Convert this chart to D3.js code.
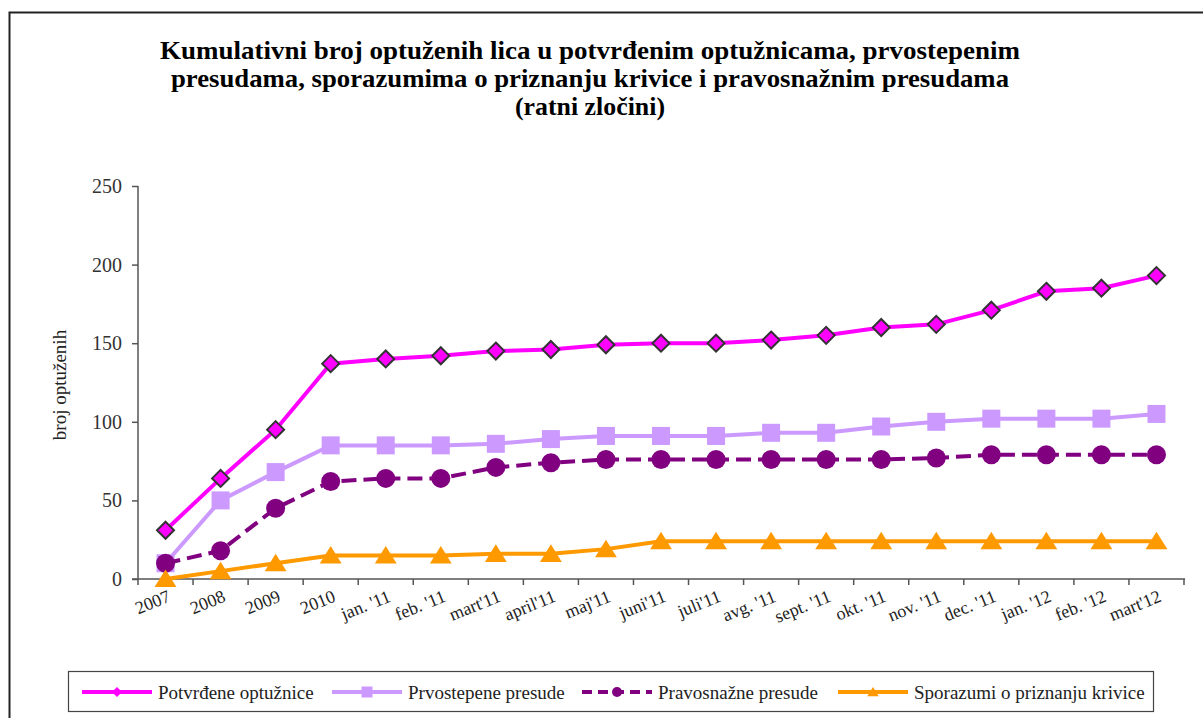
<!DOCTYPE html>
<html>
<head>
<meta charset="utf-8">
<script src="https://cdn.jsdelivr.net/npm/d3@7"></script>
<style>
    body { margin: 0; background: #ffffff; }
    svg { display: block; }
</style>
</head>
<body>
<div id="chart"></div>
<script>
// Podaci
var categories = ['2007', '2008', '2009', '2010', "jan. '11", "feb. '11", "mart'11", "april'11", "maj'11", "juni'11",
    "juli'11", "avg. '11", "sept. '11", "okt. '11", "nov. '11", "dec. '11", "jan. '12", "feb. '12", "mart'12"];

var potvrdjene = [31, 64, 95, 137, 140, 142, 145, 146, 149, 150, 150, 152, 155, 160, 162, 171, 183, 185, 193];
var prvostepene = [10, 50, 68, 85, 85, 85, 86, 89, 91, 91, 91, 93, 93, 97, 100, 102, 102, 102, 105];
var pravosnazne = [10, 18, 45, 62, 64, 64, 71, 74, 76, 76, 76, 76, 76, 76, 77, 79, 79, 79, 79];
var sporazumi = [0, 5, 10, 15, 15, 15, 16, 16, 19, 24, 24, 24, 24, 24, 24, 24, 24, 24, 24];

var yTicks = [0, 50, 100, 150, 200, 250];

var titleLines = [
    'Kumulativni broj optuženih lica u potvrđenim optužnicama, prvostepenim',
    'presudama, sporazumima o priznanju krivice i pravosnažnim presudama',
    '(ratni zločini)'
];

var series = [
    { name: 'Potvrđene optužnice', values: potvrdjene, color: '#FF00FF', marker: 'diamond', dash: null },
    { name: 'Prvostepene presude', values: prvostepene, color: '#CC99FF', marker: 'square', dash: null },
    { name: 'Pravosnažne presude', values: pravosnazne, color: '#800080', marker: 'circle', dash: '15,7' },
    { name: 'Sporazumi o priznanju krivice', values: sporazumi, color: '#FF9900', marker: 'triangle', dash: null }
];

var width = 1203, height = 718;
var plot = { left: 138, right: 1184, top: 186, bottom: 579 };

var svg = d3.select('#chart').append('svg')
    .attr('width', width)
    .attr('height', height);

// okvir
svg.append('path')
    .attr('d', 'M9.5,718 L9.5,12.5 L1203,12.5')
    .attr('fill', 'none')
    .attr('stroke', '#222')
    .attr('stroke-width', 2);

// naslov
var titleWidths = [860, 838, 150];
svg.append('g').selectAll('text')
    .data(titleLines)
    .join('text')
    .attr('x', 590)
    .attr('y', function (d, i) { return 59 + i * 28; })
    .attr('text-anchor', 'middle')
    .attr('textLength', function (d, i) { return titleWidths[i]; })
    .attr('lengthAdjust', 'spacingAndGlyphs')
    .style('font-family', '"Liberation Serif", "Times New Roman", serif')
    .style('font-weight', 'bold')
    .style('font-size', '25px')
    .text(function (d) { return d; });

var x = d3.scaleBand()
    .domain(categories)
    .range([plot.left, plot.right]);

var y = d3.scaleLinear()
    .domain([0, 250])
    .range([plot.bottom, plot.top]);

var axisColor = '#555';

// y osa
var yAxis = svg.append('g')
    .attr('transform', 'translate(' + plot.left + ',0)')
    .call(d3.axisLeft(y).tickValues(yTicks).tickSize(6).tickPadding(10));
yAxis.selectAll('path, line').attr('stroke', axisColor).attr('stroke-width', 1.5);
yAxis.select('.domain').attr('d', 'M0,' + plot.top + 'V' + plot.bottom);
yAxis.selectAll('text')
    .style('font-family', '"Liberation Serif", "Times New Roman", serif')
    .style('font-size', '20px')
    .attr('fill', '#333');

svg.append('text')
    .attr('transform', 'translate(66,' + 385 + ') rotate(-90)')
    .attr('text-anchor', 'middle')
    .style('font-family', '"Liberation Serif", "Times New Roman", serif')
    .style('font-size', '19px')
    .attr('fill', '#222')
    .text('broj optuženih');

// x osa
var xAxis = svg.append('g')
    .attr('transform', 'translate(0,' + plot.bottom + ')');
xAxis.append('line')
    .attr('x1', plot.left - 6).attr('x2', plot.right + 1)
    .attr('stroke', axisColor).attr('stroke-width', 1.5);
xAxis.selectAll('.tick')
    .data(categories.concat(['end']))
    .join('line')
    .attr('class', 'tick')
    .attr('x1', function (d, i) { return plot.left + i * x.step(); })
    .attr('x2', function (d, i) { return plot.left + i * x.step(); })
    .attr('y1', 0).attr('y2', 6)
    .attr('stroke', axisColor).attr('stroke-width', 1.5);
xAxis.selectAll('.lbl')
    .data(categories)
    .join('text')
    .attr('class', 'lbl')
    .attr('transform', function (d) {
        return 'translate(' + (x(d) + x.bandwidth() / 2 + 6) + ',22) rotate(-22)';
    })
    .attr('text-anchor', 'end')
    .style('font-family', '"Liberation Serif", "Times New Roman", serif')
    .style('font-size', '18px')
    .attr('fill', '#222')
    .text(function (d) { return d; });

// linije i markeri
var cx = function (d, i) { return x(categories[i]) + x.bandwidth() / 2; };

var line = d3.line()
    .x(cx)
    .y(function (d) { return y(d); });

function markerPath(type, s) {
    if (type === 'diamond') return 'M0,' + (-s) + 'L' + s + ',0L0,' + s + 'L' + (-s) + ',0Z';
    if (type === 'square') return 'M' + (-s) + ',' + (-s) + 'H' + s + 'V' + s + 'H' + (-s) + 'Z';
    if (type === 'triangle') return 'M0,' + (-s) + 'L' + (s * 1.15) + ',' + (s * 0.85) + 'L' + (-s * 1.15) + ',' + (s * 0.85) + 'Z';
    return d3.arc()({ innerRadius: 0, outerRadius: s, startAngle: 0, endAngle: 2 * Math.PI });
}

var markerSize = { diamond: 8.5, square: 9, circle: 9.5, triangle: 9.5 };

series.forEach(function (s) {
    var g = svg.append('g');
    g.append('path')
        .attr('d', line(s.values))
        .attr('fill', 'none')
        .attr('stroke', s.color)
        .attr('stroke-width', 4)
        .attr('stroke-dasharray', s.dash);
    g.selectAll('path.m')
        .data(s.values)
        .join('path')
        .attr('class', 'm')
        .attr('transform', function (d, i) { return 'translate(' + cx(d, i) + ',' + y(d) + ')'; })
        .attr('d', markerPath(s.marker, markerSize[s.marker]))
        .attr('fill', s.color)
        .attr('stroke', s.marker === 'diamond' ? '#333' : 'none')
        .attr('stroke-width', 2);
});

// legenda
var legend = svg.append('g');
legend.append('rect')
    .attr('x', 68.5).attr('y', 671.5)
    .attr('width', 1085).attr('height', 40)
    .attr('fill', '#fff')
    .attr('stroke', '#444')
    .attr('stroke-width', 1.2);

var legendX = [82, 332, 582, 838];
var legendMarker = { diamond: 5, square: 5.5, circle: 5, triangle: 5 };

series.forEach(function (s, i) {
    var item = legend.append('g').attr('transform', 'translate(' + legendX[i] + ',692)');
    item.append('line')
        .attr('x1', 0).attr('x2', 70)
        .attr('stroke', s.color)
        .attr('stroke-width', 4)
        .attr('stroke-dasharray', s.dash ? '10,6' : null);
    item.append('path')
        .attr('transform', 'translate(35,0)')
        .attr('d', markerPath(s.marker, legendMarker[s.marker]))
        .attr('fill', s.color);
    item.append('text')
        .attr('x', 76)
        .attr('dy', '0.35em')
        .style('font-family', '"Liberation Serif", "Times New Roman", serif')
        .style('font-size', '19px')
        .attr('fill', '#222')
        .text(s.name);
});
</script>
</body>
</html>
